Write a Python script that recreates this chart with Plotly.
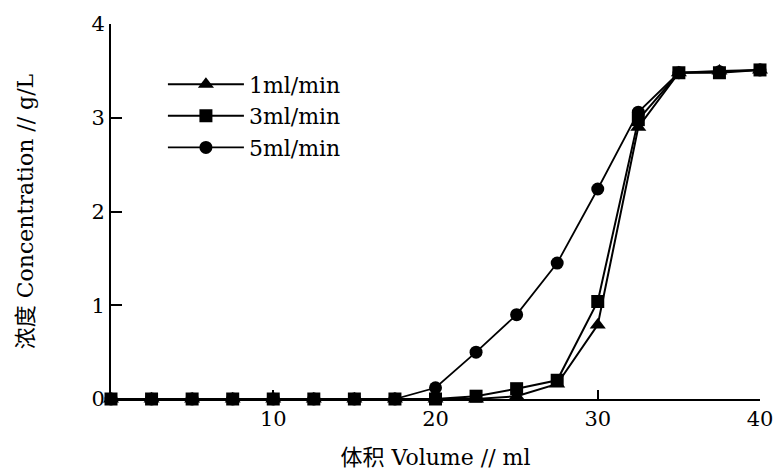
import plotly.graph_objects as go

volume = [0, 2.5, 5, 7.5, 10, 12.5, 15, 17.5, 20, 22.5, 25, 27.5, 30, 32.5, 35, 37.5, 40]
conc_1 = [0, 0, 0, 0, 0, 0, 0, 0, 0, 0.0, 0.03, 0.16, 0.79, 2.9, 3.48, 3.5, 3.51]
conc_3 = [0, 0, 0, 0, 0, 0, 0, 0, 0, 0.03, 0.11, 0.2, 1.04, 2.98, 3.48, 3.48, 3.51]
conc_5 = [0, 0, 0, 0, 0, 0, 0, 0, 0.12, 0.5, 0.9, 1.45, 2.24, 3.06, 3.48, 3.49, 3.51]
names = ["1ml/min", "3ml/min", "5ml/min"]
x_ticks = [10, 20, 30, 40]
y_ticks = [0, 1, 2, 3, 4]

FONT = "DejaVu Serif, Noto Sans CJK SC, serif"

fig = go.Figure()
fig.add_trace(go.Scatter(x=volume, y=conc_5, name=names[2], mode="lines+markers",
                         line=dict(color="black", width=1.8),
                         marker=dict(symbol="circle", size=13, color="black"),
                         cliponaxis=False, legendrank=3))
fig.add_trace(go.Scatter(x=volume, y=conc_1, name=names[0], mode="lines+markers",
                         line=dict(color="black", width=2),
                         marker=dict(symbol="triangle-up", size=14, color="black"),
                         cliponaxis=False, legendrank=1))
fig.add_trace(go.Scatter(x=volume, y=conc_3, name=names[1], mode="lines+markers",
                         line=dict(color="black", width=2),
                         marker=dict(symbol="square", size=13, color="black"),
                         cliponaxis=False, legendrank=2))

fig.update_layout(
    width=775, height=474,
    margin=dict(l=111, r=15, t=24, b=75),
    plot_bgcolor="white", paper_bgcolor="white",
    font=dict(family=FONT, size=22, color="black"),
    legend=dict(x=0.080, y=0.895, xanchor="left", yanchor="top",
                font=dict(family=FONT, size=22, color="black"),
                bgcolor="rgba(0,0,0,0)", itemwidth=76, tracegroupgap=0),
    showlegend=True,
)
fig.update_xaxes(range=[0, 40], tickvals=x_ticks, ticktext=[str(v) for v in x_ticks],
                 showline=True, linecolor="black", linewidth=2, automargin=False,
                 ticks="inside", ticklen=9, tickwidth=2, tickcolor="black",
                 showgrid=False, zeroline=False,
                 tickfont=dict(family=FONT, size=21),
                 title=dict(text="体积 Volume // ml", font=dict(family=FONT, size=22), standoff=19))
fig.update_yaxes(range=[0, 4], tickvals=y_ticks, ticktext=[str(v) for v in y_ticks],
                 showline=True, linecolor="black", linewidth=2, automargin=False,
                 ticks="inside", ticklen=11, tickwidth=2, tickcolor="black",
                 showgrid=False, zeroline=False,
                 tickfont=dict(family=FONT, size=21),
                 title=dict(text="浓度 Concentration // g/L", font=dict(family=FONT, size=22), standoff=52))

fig.write_html("out.html")
